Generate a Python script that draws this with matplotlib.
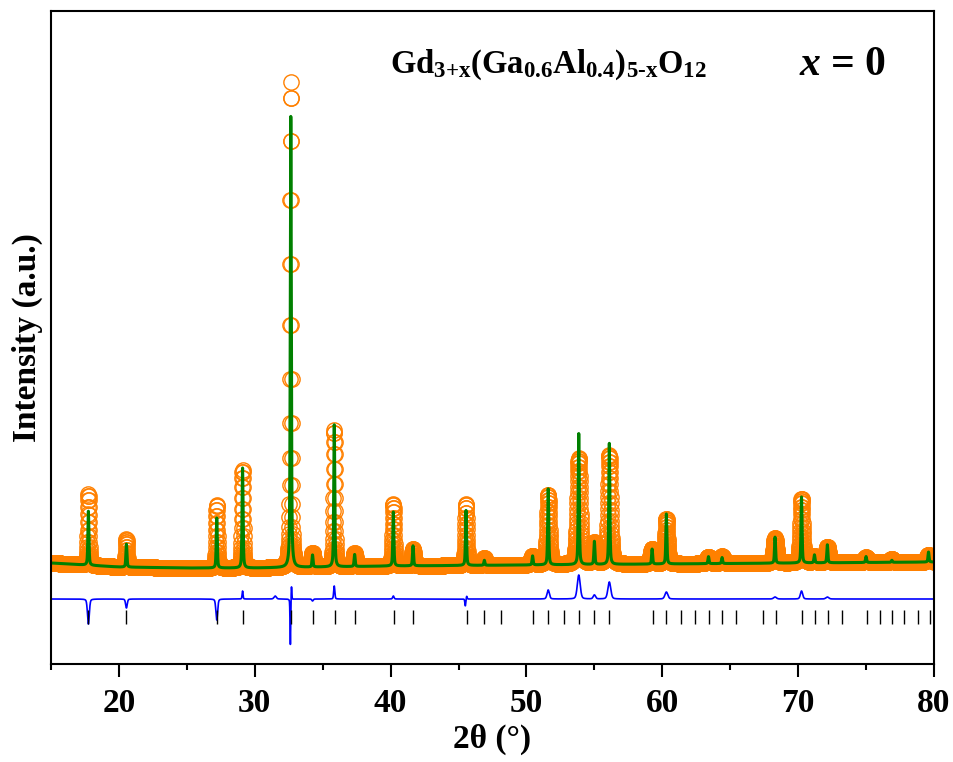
import numpy as np
import matplotlib.pyplot as plt

plt.rcParams['font.family'] = 'Liberation Serif'
plt.rcParams['font.weight'] = 'bold'
plt.rcParams['axes.labelweight'] = 'bold'
plt.rcParams['mathtext.fontset'] = 'custom'
plt.rcParams['mathtext.rm'] = 'Liberation Serif:bold'
plt.rcParams['mathtext.it'] = 'Liberation Serif:bold:italic'
plt.rcParams['mathtext.bf'] = 'Liberation Serif:bold'

# background level (a.u.) read along 2theta
bg_x = [15, 20, 25, 30, 40, 50, 60, 70, 80]
bg_y = [101, 97, 96, 96, 98, 99, 100, 101, 102]

# reflections: position, calculated height, observed height, observed FWHM
peak_pos = [17.75, 20.55, 27.2, 29.1, 32.65, 34.25, 35.85, 37.35, 40.2, 41.65,
            45.55, 46.9, 50.45, 51.6, 53.85, 55.0, 56.1, 59.25, 60.3, 63.4,
            64.4, 68.3, 70.25, 71.2, 72.15, 75.0, 76.9, 79.6]
calc_h = [54, 23, 50, 100, 451, 12, 142, 12, 54, 20,
          55, 5, 9, 76, 131, 23, 121, 15, 50, 7,
          6, 26, 66, 8, 18, 6, 2, 10]
obs_h = [71, 28, 63, 98, 485, 14, 137, 13, 62, 17,
         61, 7, 9, 70, 106, 21, 109, 15, 45, 7,
         7, 25, 64, 6, 16, 5, 3, 7]
obs_w = [0.12, 0.12, 0.12, 0.12, 0.10, 0.2, 0.12, 0.2, 0.14, 0.16,
         0.14, 0.2, 0.25, 0.2, 0.25, 0.25, 0.22, 0.25, 0.2, 0.3,
         0.3, 0.25, 0.2, 0.25, 0.25, 0.3, 0.3, 0.3]

# difference curve features: position, amplitude, width
diff_pos = [17.75, 20.55, 27.2, 29.1, 31.5, 32.62, 32.7, 34.25, 35.85, 40.2,
            45.5, 45.6, 51.6, 53.85, 55.0, 56.1, 60.3, 68.3, 70.25, 72.15]
diff_amp = [-25, -9, -21, 8, 3, -46, 14, -2, 13, 3,
            -7, 3, 9, 24, 4, 17, 7, 2, 8, 2]
diff_w = [0.16, 0.14, 0.15, 0.08, 0.2, 0.06, 0.06, 0.12, 0.1, 0.12,
          0.08, 0.08, 0.2, 0.25, 0.2, 0.25, 0.25, 0.25, 0.2, 0.25]
diff_base = 65

# Bragg positions
bragg = [17.75, 20.5, 27.2, 29.1, 32.7, 34.3, 35.9, 37.4, 40.25, 41.65,
         45.6, 46.9, 48.1, 50.5, 51.6, 52.8, 53.9, 55.0, 56.1, 59.3,
         60.3, 61.4, 62.4, 63.45, 64.4, 65.4, 67.4, 68.4, 70.3, 71.25,
         72.2, 73.2, 75.1, 76.0, 76.9, 77.8, 78.8, 79.7]


def pvoigt(x, pos, height, fwhm, eta=0.5):
    d = (x - pos) / (fwhm / 2)
    return height * (eta / (1 + d ** 2) + (1 - eta) * np.exp(-np.log(2) * d ** 2))


def profile(x, heights, widths):
    y = np.interp(x, bg_x, bg_y)
    for p, h, w in zip(peak_pos, heights, widths):
        y = y + pvoigt(x, p, h, w)
    return y


x_obs = np.round(np.arange(15, 80.0001, 0.01), 3)
x_calc = np.round(np.arange(15, 80.0001, 0.005), 3)
obs = profile(x_obs, obs_h, obs_w)
calc = profile(x_calc, calc_h, [0.09] * len(peak_pos))
diff = np.full_like(x_calc, diff_base, dtype=float)
for p, a, w in zip(diff_pos, diff_amp, diff_w):
    diff += pvoigt(x_calc, p, a, w, eta=0.3)

fig = plt.figure(figsize=(9.54, 7.62), dpi=100)
ax = fig.add_axes([0.0535, 0.1286, 0.9255, 0.857])

ax.plot(x_obs, obs, 'o', ms=11, mfc='none', mec='#FF8000', mew=1.0)
ax.plot(x_calc, calc, '-', color='#008000', lw=2.2)
ax.plot(x_calc, diff, '-', color='#0000FF', lw=1.2)
ax.vlines(bragg, 40, 54, color='black', lw=1.0)

ax.set_xlim(15, 80)
ax.set_ylim(0, 653)
ax.set_yticks([])
ax.set_xticks(range(20, 81, 10))
ax.set_xticks(range(15, 80, 10), minor=True)
ax.tick_params(axis='x', which='major', length=9, width=1.5, labelsize=24, pad=8)
ax.tick_params(axis='x', which='minor', length=4.5, width=1.5)
for s in ax.spines.values():
    s.set_linewidth(1.5)

ax.set_xlabel('2θ (°)', fontsize=24, labelpad=4)
ax.set_ylabel('Intensity (a.u.)', fontsize=24, labelpad=6)

ax.text(0.384, 0.917,
        r'$\mathrm{Gd}_{\text{3+x}}\mathrm{(Ga}_{\text{0.6}}\mathrm{Al}_{\text{0.4}}\mathrm{)}_{\text{5-x}}\mathrm{O}_{\text{12}}$',
        transform=ax.transAxes, fontsize=23.5, ha='left', va='center')
ax.text(0.897, 0.917, r'$x$ = 0', transform=ax.transAxes, fontsize=30,
        ha='center', va='center')

fig.savefig('out.png', dpi=100)
